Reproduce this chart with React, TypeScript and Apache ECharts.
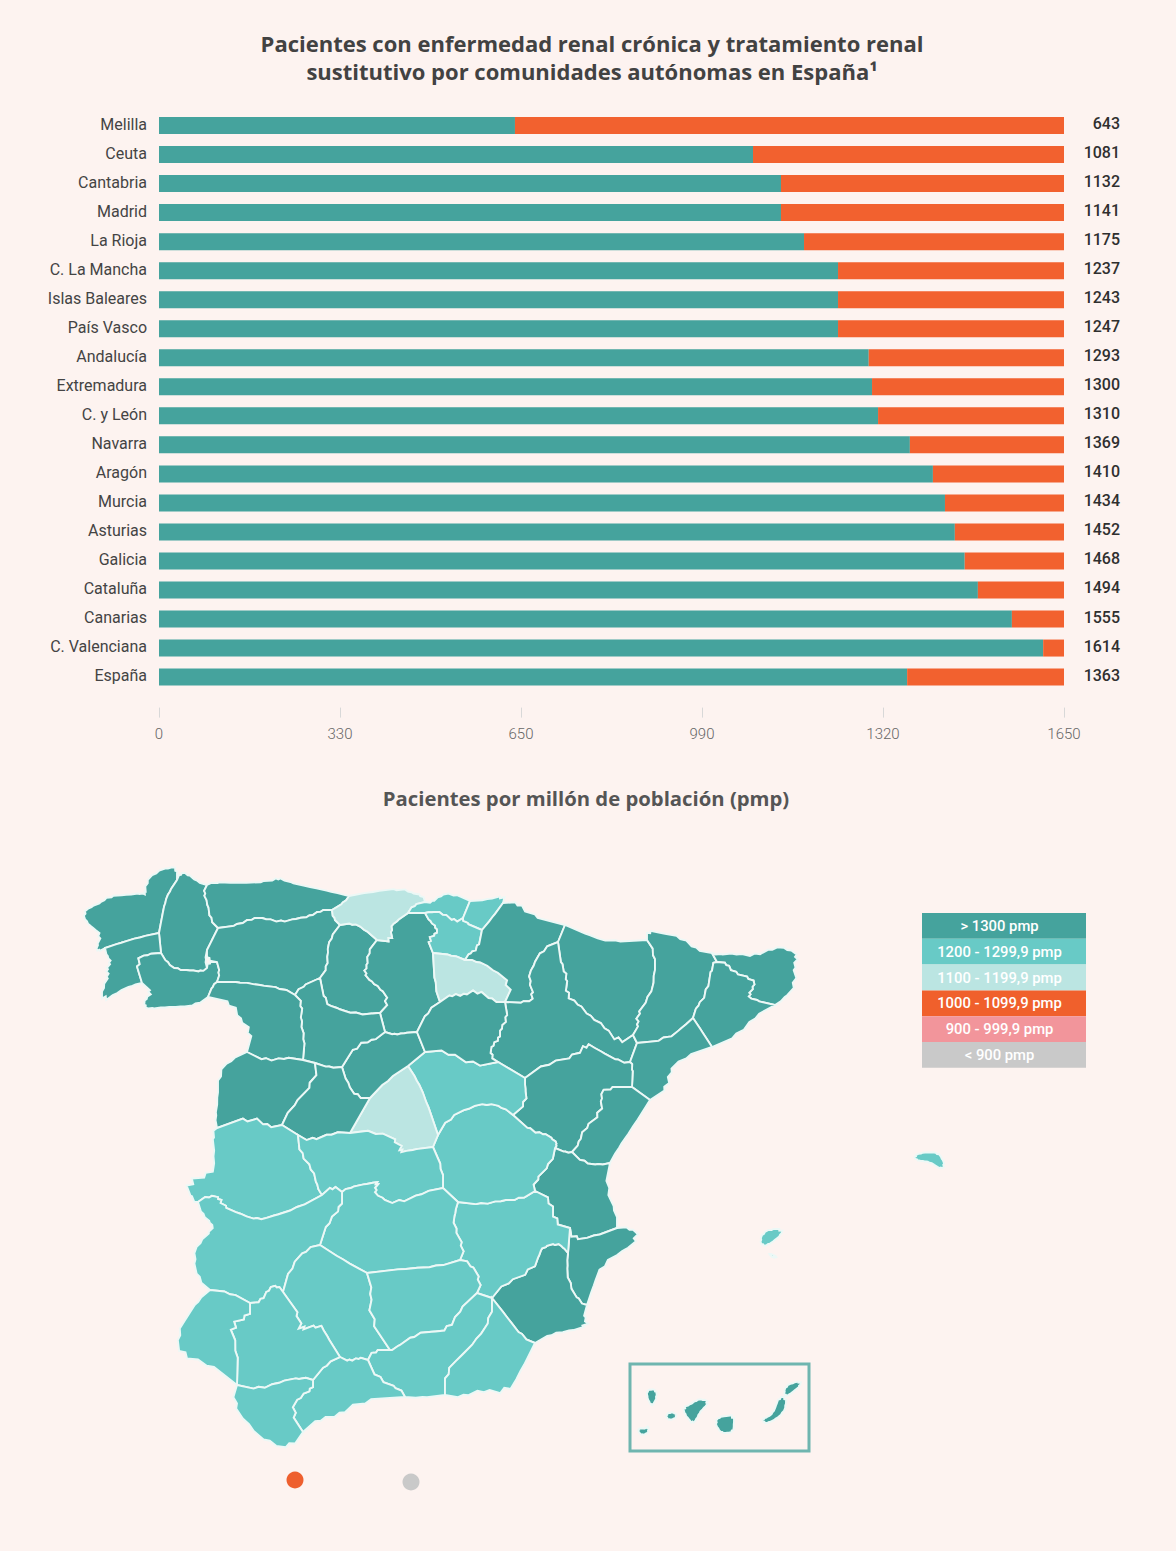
import React, { useEffect, useRef } from "react";
import * as echarts from "echarts";

const categories = ["Melilla","Ceuta","Cantabria","Madrid","La Rioja","C. La Mancha","Islas Baleares","País Vasco","Andalucía","Extremadura","C. y León","Navarra","Aragón","Murcia","Asturias","Galicia","Cataluña","Canarias","C. Valenciana","España"];
const totalLabels = ["643","1081","1132","1141","1175","1237","1243","1247","1293","1300","1310","1369","1410","1434","1452","1468","1494","1555","1614","1363"];
const tealValues = [649,1083,1134,1134,1176,1238,1238,1238,1294,1300,1311,1369,1411,1433,1451,1469,1493,1555,1612,1364];
const orangeValues = [1001,567,516,516,474,412,412,412,356,350,339,281,239,217,199,181,157,95,38,286];
const xTickLabels = ["0","330","650","990","1320","1650"];

const BG = "#fdf3f0";
const TEAL = "#45a39d";
const ORANGE = "#f2612f";
const MID = "#68cac6";
const LIGHT = "#bbe5e2";

const legendRows = [
  { label: "> 1300 pmp", color: TEAL },
  { label: "1200 - 1299,9 pmp", color: MID },
  { label: "1100 - 1199,9 pmp", color: LIGHT },
  { label: "1000 - 1099,9 pmp", color: "#f0602c" },
  { label: "900 - 999,9 pmp", color: "#f2959b" },
  { label: "< 900 pmp", color: "#c9c9c9" },
];

// Rates per community, used for the map classes
const communityRate: Record<string, number> = {
  Galicia: 1468, Asturias: 1452, CyL: 1310, Cantabria: 1132, PaisVasco: 1247, Rioja: 1175, Navarra: 1369,
  Aragon: 1410, Cataluna: 1494, Valencia: 1614, Murcia: 1434, Madrid: 1141, CLM: 1237, Extremadura: 1299,
  Andalucia: 1293, Baleares: 1243, Canarias: 1555,
};

type Pts = number[][];
const provinces: [string, string, Pts[]][] = [
  ["A Coruña","Galicia",[[[83,913],[90,907],[103,902],[108,896],[127,895],[142,893],[146,895],[145,883],[155,872],[170,867],[177,868],[177,880],[169,892],[165,902],[162,917],[159,933],[140,937],[120,943],[105,948],[98,952],[96,947],[102,935],[93,928],[86,922]]]],
  ["Lugo","Galicia",[[[180,873],[187,873],[197,882],[207,885],[203,893],[208,903],[210,920],[218,928],[212,940],[207,950],[205,960],[207,968],[202,972],[190,970],[177,970],[167,963],[161,953],[159,933],[162,917],[165,902],[169,892],[177,880]]]],
  ["Pontevedra","Galicia",[[[105,948],[120,943],[140,937],[159,933],[161,953],[147,954],[135,960],[142,983],[133,985],[117,992],[102,1003],[102,987],[110,975],[105,970],[112,962],[107,957]]]],
  ["Ourense","Galicia",[[[135,960],[147,954],[161,953],[167,963],[177,970],[190,970],[202,972],[207,968],[208,962],[217,962],[220,973],[217,982],[213,985],[208,997],[197,1005],[180,1007],[165,1007],[150,1009],[144,1007],[145,998],[153,993],[142,983]]]],
  ["Asturias","Asturias",[[[207,885],[213,882],[237,883],[270,882],[278,877],[287,882],[310,887],[333,892],[349,896],[345,902],[332,910],[320,910],[310,917],[297,918],[280,923],[267,918],[250,918],[240,925],[218,928],[210,920],[208,903],[203,893]]]],
  ["León","CyL",[[[218,928],[240,925],[250,918],[267,918],[280,923],[297,918],[310,917],[320,910],[332,910],[333,918],[340,925],[330,938],[327,953],[328,967],[320,978],[300,987],[295,995],[283,988],[257,985],[243,982],[217,982],[220,973],[217,962],[207,960],[207,950],[212,940]]]],
  ["Palencia","CyL",[[[340,925],[353,923],[363,928],[377,940],[367,953],[368,967],[363,972],[372,983],[380,987],[390,1002],[380,1013],[377,1013],[357,1015],[333,1007],[325,1003],[320,978],[328,967],[327,953],[330,938]]]],
  ["Burgos","CyL",[[[395,922],[408,913],[425,913],[430,922],[437,927],[437,935],[427,938],[433,953],[435,987],[440,1002],[428,1010],[417,1032],[403,1033],[395,1035],[385,1032],[380,1013],[390,1002],[380,987],[372,983],[363,972],[368,967],[367,953],[377,940],[393,942],[390,928]]]],
  ["Cantabria","Cantabria",[[[349,896],[370,892],[403,888],[410,893],[423,895],[425,902],[413,905],[408,913],[395,922],[390,928],[393,942],[377,940],[363,928],[353,923],[340,925],[333,918],[332,910],[345,902]]]],
  ["Vizcaya","PaisVasco",[[[408,913],[413,905],[425,902],[432,903],[440,895],[452,893],[470,901],[463,918],[455,923],[443,912],[430,912],[425,913]]]],
  ["Guipúzcoa","PaisVasco",[[[470,901],[487,900],[505,895],[503,903],[492,918],[482,930],[463,922],[463,918]]]],
  ["Álava","PaisVasco",[[[425,913],[430,912],[443,912],[455,923],[463,918],[463,922],[482,930],[478,950],[470,952],[465,960],[453,955],[433,953],[427,938],[437,935],[437,927],[430,922]]]],
  ["La Rioja","Rioja",[[[433,953],[453,955],[465,960],[475,960],[492,968],[513,985],[505,1002],[493,1002],[477,988],[463,997],[453,993],[440,1002],[435,987]]]],
  ["Navarra","Navarra",[[[465,960],[470,952],[478,950],[482,930],[492,918],[503,903],[520,902],[527,915],[565,925],[558,942],[543,948],[532,967],[528,980],[535,997],[527,1003],[505,1002],[513,985],[492,968],[475,960]]]],
  ["Huesca","Aragon",[[[565,925],[593,937],[610,942],[647,940],[655,952],[655,977],[650,997],[635,1017],[640,1023],[633,1035],[618,1045],[605,1025],[590,1018],[578,1002],[565,997],[568,975],[562,970],[558,942]]]],
  ["Zaragoza","Aragon",[[[558,942],[562,970],[568,975],[565,997],[578,1002],[590,1018],[605,1025],[618,1045],[633,1035],[637,1043],[630,1062],[622,1063],[598,1050],[585,1042],[578,1057],[547,1062],[525,1078],[498,1062],[490,1057],[492,1043],[500,1040],[500,1027],[508,1020],[505,1002],[527,1003],[535,997],[528,980],[532,967],[543,948]]]],
  ["Lleida","Cataluna",[[[647,930],[660,933],[683,937],[695,950],[712,953],[717,962],[712,963],[707,995],[697,1005],[693,1018],[683,1027],[667,1040],[637,1043],[633,1035],[640,1023],[635,1017],[650,997],[655,977],[655,952],[647,940]]]],
  ["Girona","Cataluna",[[[712,953],[717,955],[737,953],[755,957],[773,947],[788,948],[800,957],[792,965],[798,983],[783,1000],[775,1005],[753,1000],[747,995],[755,987],[753,978],[732,973],[728,963],[717,962]]]],
  ["Barcelona","Cataluna",[[[712,963],[717,962],[728,963],[732,973],[753,978],[755,987],[747,995],[753,1000],[775,1005],[753,1017],[740,1035],[712,1047],[703,1033],[693,1018],[697,1005],[707,995]]]],
  ["Tarragona","Cataluna",[[[693,1018],[703,1033],[712,1047],[683,1057],[667,1073],[670,1087],[650,1100],[632,1087],[633,1065],[630,1062],[637,1043],[667,1040],[683,1027]]]],
  ["Teruel","Aragon",[[[525,1078],[547,1062],[578,1057],[585,1042],[598,1050],[622,1063],[630,1062],[633,1065],[632,1087],[605,1087],[600,1097],[603,1113],[583,1128],[580,1143],[572,1152],[567,1153],[555,1148],[557,1145],[555,1140],[542,1132],[533,1133],[513,1115],[527,1103],[525,1087]]]],
  ["Castellón","Valencia",[[[605,1087],[632,1087],[650,1100],[633,1127],[617,1150],[610,1163],[600,1165],[583,1163],[572,1152],[580,1143],[583,1128],[603,1113],[600,1097]]]],
  ["Valencia","Valencia",[[[555,1148],[567,1153],[572,1152],[583,1163],[600,1165],[610,1163],[605,1188],[617,1213],[617,1228],[593,1237],[572,1240],[570,1228],[553,1223],[553,1200],[535,1191],[533,1182],[552,1163]]]],
  ["Alicante","Valencia",[[[570,1228],[572,1240],[593,1237],[617,1228],[630,1227],[641,1237],[623,1252],[602,1263],[593,1287],[587,1305],[580,1303],[568,1283],[567,1263],[568,1253]]]],
  ["Murcia","Murcia",[[[543,1247],[557,1243],[563,1247],[568,1253],[567,1263],[568,1283],[580,1303],[587,1305],[583,1320],[590,1325],[567,1332],[552,1333],[535,1343],[523,1338],[507,1317],[492,1298],[505,1282],[533,1272],[540,1252]]]],
  ["Albacete","CLM",[[[458,1202],[483,1205],[500,1200],[520,1200],[535,1191],[553,1200],[553,1223],[570,1228],[568,1253],[563,1247],[557,1243],[543,1247],[540,1252],[533,1272],[505,1282],[492,1298],[477,1293],[482,1282],[470,1262],[460,1260],[465,1248],[453,1227],[455,1212]]]],
  ["Cuenca","CLM",[[[448,1118],[470,1107],[487,1103],[503,1107],[513,1115],[533,1133],[542,1132],[555,1140],[557,1145],[555,1148],[552,1163],[533,1182],[535,1191],[520,1200],[500,1200],[483,1205],[458,1202],[443,1188],[443,1170],[433,1147],[438,1135]]]],
  ["Guadalajara","CLM",[[[408,1066],[425,1052],[448,1050],[473,1067],[498,1062],[525,1078],[525,1087],[527,1103],[513,1115],[503,1107],[487,1103],[470,1107],[448,1118],[438,1135],[425,1097],[417,1080]]]],
  ["Madrid","Madrid",[[[408,1066],[417,1080],[425,1097],[438,1135],[433,1147],[410,1150],[398,1153],[403,1143],[375,1130],[350,1133],[370,1098],[387,1080]]]],
  ["Segovia","CyL",[[[385,1032],[395,1035],[403,1033],[417,1032],[425,1052],[408,1066],[387,1080],[370,1098],[357,1098],[347,1083],[342,1067],[357,1043],[372,1042]]]],
  ["Soria","CyL",[[[440,1002],[453,993],[463,997],[477,988],[493,1002],[505,1002],[508,1020],[500,1027],[500,1040],[492,1043],[490,1057],[498,1062],[473,1067],[448,1050],[425,1052],[417,1032],[428,1010]]]],
  ["Valladolid","CyL",[[[320,978],[325,1003],[333,1007],[357,1015],[377,1013],[380,1013],[385,1032],[372,1042],[357,1043],[342,1067],[330,1068],[315,1063],[303,1060],[305,1037],[300,1023],[303,1003],[295,995],[300,987]]]],
  ["Zamora","CyL",[[[217,982],[243,982],[257,985],[283,988],[295,995],[303,1003],[300,1023],[305,1037],[303,1060],[283,1057],[267,1062],[247,1052],[253,1030],[238,1020],[235,1003],[208,997],[213,985]]]],
  ["Salamanca","CyL",[[[247,1052],[267,1062],[283,1057],[303,1060],[315,1063],[317,1080],[290,1108],[282,1125],[267,1128],[253,1115],[217,1128],[215,1117],[218,1100],[218,1073],[230,1060]]]],
  ["Ávila","CyL",[[[315,1063],[330,1068],[342,1067],[347,1083],[357,1098],[370,1098],[350,1133],[333,1132],[310,1142],[298,1135],[282,1125],[290,1108],[317,1080]]]],
  ["Cáceres","Extremadura",[[[212,1132],[217,1128],[253,1115],[267,1128],[282,1125],[298,1135],[300,1155],[313,1168],[317,1187],[322,1195],[298,1208],[270,1217],[258,1220],[242,1215],[220,1205],[222,1198],[208,1195],[198,1202],[193,1202],[184,1179],[212,1177],[215,1158]]]],
  ["Toledo","CLM",[[[298,1135],[310,1142],[333,1132],[350,1133],[375,1130],[403,1143],[398,1153],[410,1150],[433,1147],[443,1170],[443,1188],[423,1192],[397,1205],[380,1198],[373,1190],[380,1182],[370,1183],[347,1188],[342,1192],[333,1185],[322,1195],[317,1187],[313,1168],[300,1155]]]],
  ["Ciudad Real","CLM",[[[342,1192],[347,1188],[370,1183],[380,1182],[373,1190],[380,1198],[397,1205],[423,1192],[443,1188],[458,1202],[455,1212],[453,1227],[465,1248],[460,1260],[437,1267],[410,1268],[367,1273],[343,1260],[320,1245],[328,1220],[342,1208]]]],
  ["Badajoz","Extremadura",[[[198,1202],[208,1195],[222,1198],[220,1205],[242,1215],[258,1220],[270,1217],[298,1208],[322,1195],[333,1185],[342,1192],[342,1208],[328,1220],[320,1245],[307,1248],[290,1267],[283,1292],[278,1285],[268,1288],[262,1302],[250,1303],[230,1292],[210,1290],[198,1280],[193,1257],[198,1243],[213,1230],[212,1223],[202,1215]]]],
  ["Córdoba","Andalucia",[[[320,1245],[343,1260],[367,1273],[373,1293],[368,1317],[390,1350],[373,1350],[368,1360],[358,1357],[350,1362],[340,1357],[325,1333],[320,1323],[297,1332],[303,1320],[283,1292],[290,1267],[307,1248]]]],
  ["Jaén","Andalucia",[[[367,1273],[410,1268],[437,1267],[460,1260],[470,1262],[482,1282],[477,1293],[457,1312],[450,1330],[430,1332],[417,1333],[393,1350],[390,1350],[368,1317],[373,1293]]]],
  ["Granada","Andalucia",[[[368,1360],[373,1350],[390,1350],[393,1350],[417,1333],[430,1332],[450,1330],[457,1312],[477,1293],[492,1298],[492,1317],[477,1340],[460,1357],[445,1372],[445,1395],[420,1398],[405,1397],[400,1388],[377,1380]]]],
  ["Almería","Andalucia",[[[492,1298],[507,1317],[523,1338],[535,1343],[520,1373],[507,1395],[483,1388],[463,1398],[445,1395],[445,1372],[460,1357],[477,1340],[492,1317]]]],
  ["Málaga","Andalucia",[[[340,1357],[350,1362],[358,1357],[368,1360],[377,1380],[400,1388],[405,1397],[358,1400],[340,1417],[320,1417],[303,1432],[290,1412],[300,1395],[313,1390],[313,1380],[327,1363]]]],
  ["Sevilla","Andalucia",[[[250,1303],[262,1302],[268,1288],[278,1285],[283,1292],[303,1320],[297,1332],[320,1323],[325,1333],[340,1357],[327,1363],[313,1380],[303,1377],[277,1382],[260,1390],[237,1385],[238,1347],[228,1323],[250,1318]]]],
  ["Huelva","Andalucia",[[[210,1290],[230,1292],[250,1303],[250,1318],[228,1323],[238,1347],[237,1385],[205,1360],[180,1358],[177,1333],[187,1317],[198,1300]]]],
  ["Cádiz","Andalucia",[[[237,1385],[260,1390],[277,1382],[303,1377],[313,1380],[313,1390],[300,1395],[290,1412],[303,1432],[292,1448],[270,1445],[247,1425],[232,1402]]]],
  ["Baleares","Baleares",[
    [[914,1156],[920,1153],[930,1152],[938,1153],[942,1158],[945,1166],[941,1169],[936,1166],[930,1162],[922,1161],[916,1160]],
    [[760,1240],[763,1233],[770,1229],[783,1229],[781,1235],[775,1240],[768,1245],[762,1246]],
    [[769,1254],[772,1254],[777,1257],[773,1258]],
  ]],
  ["Canarias","Canarias",[
    [[647,1391],[651,1389],[656,1390],[657,1397],[654,1403],[652,1406],[649,1402],[647,1396]],
    [[638,1429],[642,1428],[645,1429],[648,1426],[649,1431],[646,1434],[642,1435],[639,1433]],
    [[666,1415],[670,1412],[675,1413],[677,1416],[674,1419],[669,1420],[667,1418]],
    [[683,1407],[690,1405],[696,1400],[703,1399],[709,1402],[704,1408],[699,1413],[697,1419],[692,1424],[689,1419],[685,1415]],
    [[715,1422],[719,1417],[726,1416],[734,1415],[734,1425],[733,1432],[727,1433],[722,1433],[718,1429]],
    [[762,1419],[768,1417],[773,1413],[776,1406],[779,1397],[786,1397],[786,1406],[783,1413],[776,1419],[768,1423],[764,1423]],
    [[784,1392],[786,1386],[792,1383],[801,1381],[800,1386],[795,1390],[789,1395],[785,1396]],
  ]],
];

function classColor(v: number) {
  if (v >= 1300) return TEAL;
  if (v >= 1200) return MID;
  return LIGHT;
}

function label(text: string, x: number, y: number, size: number, fill: string, weight: number, family: string) {
  return { type: "text", x, y, silent: true, style: { text, fill, fontSize: size, fontWeight: weight, fontFamily: family, textAlign: "center", textVerticalAlign: "middle" } };
}

// Rounds the traced outlines: junction vertices (three or more distinct neighbours) stay put,
// so that borders shared by two provinces are rounded identically on both sides.
function roundOutlines(list: typeof provinces) {
  const neighbours = new Map<string, Set<string>>();
  const key = (p: number[]) => p[0] + "," + p[1];
  list.forEach(([, , polys]) => polys.forEach((poly) => poly.forEach((p, i) => {
    const k = key(p);
    if (!neighbours.has(k)) neighbours.set(k, new Set());
    neighbours.get(k)!.add(key(poly[(i + 1) % poly.length]));
    neighbours.get(k)!.add(key(poly[(i + poly.length - 1) % poly.length]));
  })));
  const pass = (poly: Pts) => {
    const out: Pts = [];
    poly.forEach((p, i) => {
      if (neighbours.get(key(p))!.size > 2) { out.push(p); return; }
      const a = poly[(i + poly.length - 1) % poly.length];
      const b = poly[(i + 1) % poly.length];
      out.push([p[0] * 0.72 + a[0] * 0.28, p[1] * 0.72 + a[1] * 0.28]);
      out.push([p[0] * 0.5 + (a[0] + b[0]) * 0.25, p[1] * 0.5 + (a[1] + b[1]) * 0.25]);
      out.push([p[0] * 0.72 + b[0] * 0.28, p[1] * 0.72 + b[1] * 0.28]);
    });
    return out;
  };
  return list.map(([n, c, polys]) => [n, c, polys.map(pass)] as [string, string, Pts[]]);
}

export default function App() {
  const ref = useRef<HTMLDivElement>(null);
  useEffect(() => {
    document.body.style.margin = "0";
    document.body.style.background = BG;
    const chart = echarts.init(ref.current!, undefined, { renderer: "svg" });

    const rounded = roundOutlines(provinces);
    const geo = {
      type: "FeatureCollection",
      features: rounded.map(([name, , polys]) => ({
        type: "Feature",
        properties: { name },
        geometry: { type: "MultiPolygon", coordinates: polys.map((p) => [p.map(([x, y]) => [x, -y])]) },
      })),
    };
    echarts.registerMap("espana", geo as any);

    const all = rounded.flatMap((p) => p[2].flat());
    const xs = all.map((p) => p[0]);
    const ys = all.map((p) => p[1]);
    const minX = Math.min(...xs), maxX = Math.max(...xs), minY = Math.min(...ys), maxY = Math.max(...ys);

    const legendX = 922, legendY = 913, legendW = 164, legendH = 25.8;
    const graphics: any[] = [
      label("Pacientes con enfermedad renal crónica y tratamiento renal", 592, 42.5, 22, "#424242", 700, "Open Sans"),
      label("sustitutivo por comunidades autónomas en España¹", 592, 70.5, 22, "#424242", 700, "Open Sans"),
      label("Pacientes por millón de población (pmp)", 586, 798, 20.3, "#555555", 700, "Open Sans"),
      ...legendRows.flatMap((r, i) => [
        { type: "rect", silent: true, shape: { x: legendX, y: legendY + i * legendH, width: legendW, height: legendH }, style: { fill: r.color } },
        label(r.label, legendX + 77.5, legendY + i * legendH + legendH / 2, 14.8, "#ffffff", 500, "Roboto"),
      ]),
      { type: "rect", silent: true, shape: { x: 630, y: 1364, width: 179, height: 87 }, style: { fill: "none", stroke: "#6fb5af", lineWidth: 3 } },
      { type: "circle", silent: true, shape: { cx: 295, cy: 1480, r: 8.5 }, style: { fill: "#ee5f2e" } },
      { type: "circle", silent: true, shape: { cx: 411, cy: 1482, r: 8.5 }, style: { fill: "#c9c9c9" } },
    ];

    chart.setOption({
      animation: false,
      backgroundColor: BG,
      textStyle: { fontFamily: "Roboto" },
      grid: { left: 159, width: 905, top: 111, height: 580.6 },
      xAxis: {
        type: "value", min: 0, max: 1650, interval: 330, offset: 16,
        axisLine: { show: false },
        axisTick: { show: true, length: 10, lineStyle: { color: "#d8d8d8" } },
        axisLabel: {
          color: "#666666", fontSize: 15, fontWeight: 300, fontFamily: "Roboto", margin: 19,
          formatter: (_v: number, i: number) => xTickLabels[i],
        },
        splitLine: { show: false },
      },
      yAxis: [
        {
          type: "category", data: categories, inverse: true,
          axisLine: { show: false }, axisTick: { show: false },
          axisLabel: { color: "#444444", fontSize: 16, fontFamily: "Roboto", margin: 12, interval: 0, verticalAlign: "bottom", lineHeight: 3 },
        },
        {
          type: "category", data: totalLabels, inverse: true, position: "right",
          axisLine: { show: false }, axisTick: { show: false },
          axisLabel: { color: "#2f2f2f", fontSize: 16, fontWeight: 500, fontFamily: "Roboto", align: "right", margin: 56, interval: 0, verticalAlign: "bottom", lineHeight: 4 },
        },
      ],
      graphic: { elements: graphics },
      series: [
        { type: "bar", stack: "t", data: tealValues, barWidth: 17, itemStyle: { color: TEAL }, silent: true },
        { type: "bar", stack: "t", data: orangeValues, barWidth: 17, itemStyle: { color: ORANGE }, silent: true },
        {
          type: "map", map: "espana", left: minX, top: minY, width: maxX - minX, height: maxY - minY,
          aspectScale: 1, roam: false, silent: true, selectedMode: false,
          label: { show: false }, emphasis: { disabled: true },
          itemStyle: { borderColor: "#ecf8f6", borderWidth: 1.9, areaColor: MID },
          data: provinces.map(([name, community]) => ({
            name, value: communityRate[community],
            itemStyle: { areaColor: classColor(communityRate[community]) },
          })),
        },
      ],
    });
    return () => chart.dispose();
  }, []);
  return <div ref={ref} style={{ width: 1176, height: 1551 }} />;
}
